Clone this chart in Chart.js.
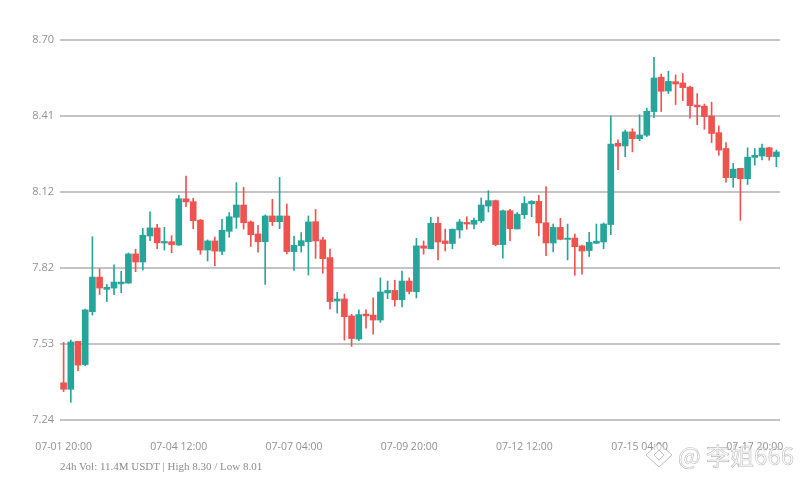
<!DOCTYPE html>
<html>
<head>
<meta charset="utf-8">
<title>Candlestick chart</title>
<script src="https://cdn.jsdelivr.net/npm/chart.js@4/dist/chart.umd.min.js"></script>
<style>
    html, body { margin: 0; padding: 0; background: #fff; overflow: hidden; }
    #wrap { position: relative; width: 800px; height: 480px; }
    #footer {
        position: absolute; left: 60px; top: 460px;
        font: 11px "Liberation Serif", serif; color: #8c8c8c; white-space: nowrap;
    }
    #watermark {
        position: absolute; left: 678px; top: 437px;
        font: 24px "Noto Sans CJK SC", sans-serif; white-space: nowrap;
        color: rgba(255, 255, 255, 0.5);
        -webkit-text-stroke: 0.6px rgba(150, 150, 150, 0.65);
    }
    #logo { position: absolute; left: 645px; top: 442px; }
</style>
</head>
<body>
<div id="wrap">
    <canvas id="klineChart" width="800" height="480"></canvas>
    <div id="footer">24h Vol: 11.4M USDT | High 8.30 / Low 8.01</div>
    <svg id="logo" width="28" height="26" viewBox="0 0 28 26">
        <path d="M14 1 L27 13 L14 25 L1 13 Z M14 8 L9 13 L14 18 L19 13 Z" fill="rgba(255,255,255,0.5)" stroke="rgba(150,150,150,0.6)" stroke-width="1"/>
    </svg>
    <div id="watermark">@ 李姐666</div>
</div>
<script>
// Categories, one candle every 4 hours
const categories = [
    '07-01 20:00',
    '07-02 00:00', '07-02 04:00', '07-02 08:00', '07-02 12:00', '07-02 16:00', '07-02 20:00',
    '07-03 00:00', '07-03 04:00', '07-03 08:00', '07-03 12:00', '07-03 16:00', '07-03 20:00',
    '07-04 00:00', '07-04 04:00', '07-04 08:00', '07-04 12:00', '07-04 16:00', '07-04 20:00',
    '07-05 00:00', '07-05 04:00', '07-05 08:00', '07-05 12:00', '07-05 16:00', '07-05 20:00',
    '07-06 00:00', '07-06 04:00', '07-06 08:00', '07-06 12:00', '07-06 16:00', '07-06 20:00',
    '07-07 00:00', '07-07 04:00', '07-07 08:00', '07-07 12:00', '07-07 16:00', '07-07 20:00',
    '07-08 00:00', '07-08 04:00', '07-08 08:00', '07-08 12:00', '07-08 16:00', '07-08 20:00',
    '07-09 00:00', '07-09 04:00', '07-09 08:00', '07-09 12:00', '07-09 16:00', '07-09 20:00',
    '07-10 00:00', '07-10 04:00', '07-10 08:00', '07-10 12:00', '07-10 16:00', '07-10 20:00',
    '07-11 00:00', '07-11 04:00', '07-11 08:00', '07-11 12:00', '07-11 16:00', '07-11 20:00',
    '07-12 00:00', '07-12 04:00', '07-12 08:00', '07-12 12:00', '07-12 16:00', '07-12 20:00',
    '07-13 00:00', '07-13 04:00', '07-13 08:00', '07-13 12:00', '07-13 16:00', '07-13 20:00',
    '07-14 00:00', '07-14 04:00', '07-14 08:00', '07-14 12:00', '07-14 16:00', '07-14 20:00',
    '07-15 00:00', '07-15 04:00', '07-15 08:00', '07-15 12:00', '07-15 16:00', '07-15 20:00',
    '07-16 00:00', '07-16 04:00', '07-16 08:00', '07-16 12:00', '07-16 16:00', '07-16 20:00',
    '07-17 00:00', '07-17 04:00', '07-17 08:00', '07-17 12:00', '07-17 16:00', '07-17 20:00',
    '07-18 00:00', '07-18 04:00', '07-18 08:00'
];

// Candle values
const opens = [
    7.383, 7.358, 7.542, 7.453, 7.656, 7.789, 7.742, 7.747, 7.763, 7.766,
    7.878, 7.847, 7.947, 7.978, 7.920, 7.925, 7.912, 8.090, 8.079, 8.008,
    7.893, 7.928, 7.888, 7.965, 8.019, 8.066, 8.001, 7.955, 7.925, 8.024,
    8.002, 8.024, 7.887, 7.910, 7.925, 8.002, 7.932, 7.864, 7.697, 7.705,
    7.640, 7.551, 7.647, 7.643, 7.624, 7.728, 7.738, 7.702, 7.774, 7.733,
    7.909, 7.898, 7.996, 7.928, 7.918, 7.970, 7.999, 7.992, 8.005, 8.062,
    8.083, 7.914, 8.044, 7.974, 8.029, 8.071, 8.080, 7.998, 7.920, 7.980,
    7.934, 7.939, 7.909, 7.891, 7.919, 7.924, 7.991, 8.303, 8.293, 8.347,
    8.321, 8.334, 8.425, 8.557, 8.504, 8.540, 8.535, 8.519, 8.450, 8.446,
    8.408, 8.344, 8.283, 8.171, 8.207, 8.167, 8.249, 8.254, 8.286, 8.252
];
const closes = [
    7.358, 7.540, 7.451, 7.663, 7.789, 7.747, 7.750, 7.770, 7.770, 7.878,
    7.847, 7.950, 7.978, 7.921, 7.926, 7.914, 8.090, 8.078, 8.006, 7.893,
    7.928, 7.889, 7.969, 8.021, 8.066, 7.998, 7.952, 7.925, 8.024, 8.002,
    8.024, 7.887, 7.911, 7.929, 8.001, 7.928, 7.860, 7.695, 7.705, 7.637,
    7.553, 7.645, 7.640, 7.624, 7.732, 7.738, 7.702, 7.774, 7.734, 7.909,
    7.900, 7.996, 7.924, 7.918, 7.973, 8.001, 7.993, 8.007, 8.066, 8.083,
    7.914, 8.044, 7.975, 8.031, 8.072, 8.080, 7.997, 7.920, 7.980, 7.934,
    7.939, 7.906, 7.889, 7.923, 7.927, 7.993, 8.300, 8.292, 8.347, 8.321,
    8.335, 8.426, 8.554, 8.503, 8.541, 8.531, 8.517, 8.448, 8.443, 8.406,
    8.341, 8.277, 8.171, 8.204, 8.167, 8.250, 8.257, 8.285, 8.252, 8.270
];
const highs = [
    7.538, 7.547, 7.542, 7.666, 7.944, 7.821, 7.761, 7.836, 7.811, 7.882,
    7.896, 7.976, 8.040, 7.992, 7.980, 7.948, 8.103, 8.177, 8.092, 8.010,
    7.932, 7.943, 8.011, 8.037, 8.152, 8.134, 8.005, 7.988, 8.028, 8.088,
    8.172, 8.070, 7.947, 7.960, 8.024, 8.049, 7.942, 7.897, 7.731, 7.724,
    7.646, 7.663, 7.663, 7.709, 7.786, 7.774, 7.777, 7.812, 7.786, 7.938,
    7.928, 8.019, 8.020, 7.974, 7.974, 8.011, 8.021, 8.016, 8.093, 8.121,
    8.085, 8.047, 8.049, 8.037, 8.098, 8.083, 8.103, 8.137, 7.993, 8.015,
    7.993, 7.955, 7.912, 7.961, 7.993, 7.997, 8.408, 8.316, 8.354, 8.359,
    8.413, 8.438, 8.633, 8.569, 8.580, 8.566, 8.571, 8.523, 8.494, 8.454,
    8.461, 8.370, 8.306, 8.226, 8.207, 8.286, 8.283, 8.300, 8.288, 8.277
];
const lows = [
    7.349, 7.308, 7.430, 7.449, 7.643, 7.722, 7.695, 7.722, 7.729, 7.765,
    7.810, 7.816, 7.929, 7.898, 7.893, 7.883, 7.911, 8.060, 7.975, 7.877,
    7.851, 7.833, 7.875, 7.942, 7.976, 7.973, 7.907, 7.885, 7.761, 7.987,
    7.975, 7.878, 7.815, 7.885, 7.797, 7.861, 7.804, 7.666, 7.651, 7.547,
    7.523, 7.545, 7.593, 7.570, 7.615, 7.706, 7.678, 7.674, 7.724, 7.709,
    7.877, 7.897, 7.855, 7.889, 7.898, 7.939, 7.973, 7.974, 7.999, 8.039,
    7.909, 7.862, 7.929, 7.974, 8.014, 8.021, 7.947, 7.871, 7.886, 7.932,
    7.855, 7.796, 7.800, 7.868, 7.918, 7.898, 7.952, 8.202, 8.252, 8.270,
    8.313, 8.329, 8.402, 8.425, 8.494, 8.452, 8.467, 8.400, 8.375, 8.357,
    8.306, 8.257, 8.154, 8.134, 8.007, 8.145, 8.219, 8.239, 8.238, 8.213
];

// Axis ticks
const yTicks = [7.24, 7.532, 7.824, 8.116, 8.408, 8.70];
const xTickLabels = ['07-01 20:00', '07-04 12:00', '07-07 04:00', '07-09 20:00', '07-12 12:00', '07-15 04:00', '07-17 20:00'];

const upColor = '#26a69a';
const downColor = '#ef5350';
const tickFont = { family: '"Open Sans", sans-serif', size: 10.5 };

document.addEventListener('DOMContentLoaded', function() {
    initializeChart();
});

function candleColors() {
    return closes.map((c, i) => (c >= opens[i] ? upColor : downColor));
}

function initializeChart() {
    const ctx = document.getElementById('klineChart').getContext('2d');
    const colors = candleColors();

    window.klineChart = new Chart(ctx, {
        type: 'bar',
        data: {
            labels: categories,
            datasets: [
                {
                    label: 'Body',
                    data: opens.map((o, i) => [o, closes[i]]),
                    backgroundColor: colors,
                    barThickness: 6,
                    order: 1
                },
                {
                    label: 'Wick',
                    data: lows.map((l, i) => [l, highs[i]]),
                    backgroundColor: colors,
                    barThickness: 1,
                    order: 2
                }
            ]
        },
        options: {
            responsive: false,
            animation: false,
            grouped: false,
            layout: { padding: { top: 40, right: 20, left: 0, bottom: 0 } },
            plugins: {
                legend: { display: false },
                title: { display: false },
                tooltip: { enabled: false }
            },
            scales: {
                x: {
                    grid: { display: false },
                    border: { display: false },
                    afterFit: scale => { scale.height = 60; },
                    ticks: {
                        autoSkip: false,
                        maxRotation: 0,
                        minRotation: 0,
                        padding: 13,
                        color: '#929292',
                        font: tickFont,
                        callback: function(value) {
                            const label = this.getLabelForValue(value);
                            return xTickLabels.includes(label) ? label : '';
                        }
                    }
                },
                y: {
                    min: 7.24,
                    max: 8.70,
                    border: { display: false },
                    grid: { color: '#c4c4c4', lineWidth: 2, drawTicks: false },
                    afterFit: scale => { scale.width = 60; },
                    afterBuildTicks: scale => {
                        scale.ticks = yTicks.map(v => ({ value: v }));
                    },
                    ticks: {
                        padding: 6,
                        color: '#929292',
                        font: { family: '"Open Sans", sans-serif', size: 11 },
                        callback: value => value.toFixed(2)
                    }
                }
            }
        }
    });
}
</script>
</body>
</html>
